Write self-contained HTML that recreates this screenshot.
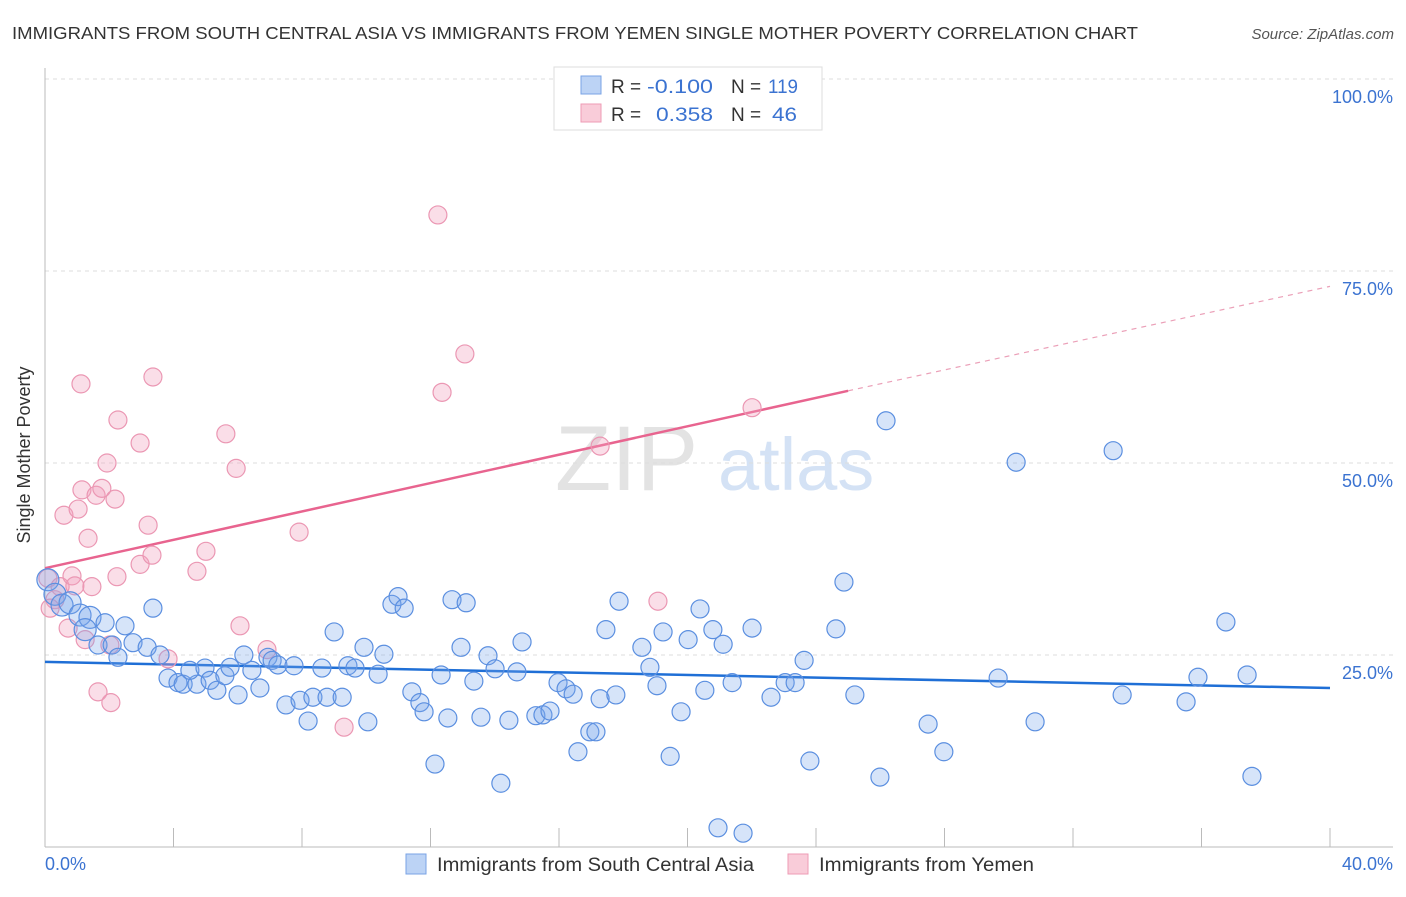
<!DOCTYPE html>
<html><head><meta charset="utf-8"><style>
body{margin:0;background:#fff;font-family:"Liberation Sans",sans-serif;}
svg text{font-family:"Liberation Sans",sans-serif;}
</style></head><body>
<svg id="chart" width="1406" height="892" viewBox="0 0 1406 892" xmlns="http://www.w3.org/2000/svg">
<text x="12" y="39" font-size="17.5" fill="#333" textLength="1126" lengthAdjust="spacingAndGlyphs">IMMIGRANTS FROM SOUTH CENTRAL ASIA VS IMMIGRANTS FROM YEMEN SINGLE MOTHER POVERTY CORRELATION CHART</text>
<text x="1394" y="39" font-size="15" fill="#555" font-style="italic" text-anchor="end">Source: ZipAtlas.com</text>
<g><text x="555" y="490" font-size="92" fill="#e3e3e3" font-family="Liberation Serif">ZIP</text><text x="718" y="490" font-size="74" fill="#d4e2f5">atlas</text></g>
<g id="grid"></g><g id="axes"></g><g id="trends"></g><g id="pts"></g>
<text x="30" y="455" font-size="18" fill="#333" text-anchor="middle" transform="rotate(-90 30 455)">Single Mother Poverty</text>
<text x="45" y="870" font-size="18" fill="#3b73d1">0.0%</text>
<text x="1393" y="870" font-size="18" fill="#3b73d1" text-anchor="end">40.0%</text>
<g>
<rect x="554" y="67" width="268" height="63" fill="#fff" stroke="#ddd"/>
<rect x="581" y="76" width="20" height="18" fill="#bcd3f5" stroke="#7aa3e5"/>
<rect x="581" y="104" width="20" height="18" fill="#f9ccd9" stroke="#ee9bb5"/>
<text x="611" y="93" font-size="19" fill="#333">R = <tspan x="647" fill="#3b73d1" textLength="66" lengthAdjust="spacingAndGlyphs">-0.100</tspan><tspan x="731">N = </tspan><tspan x="768" fill="#3b73d1" textLength="30" lengthAdjust="spacingAndGlyphs">119</tspan></text>
<text x="611" y="121" font-size="19" fill="#333">R = <tspan x="656" fill="#3b73d1" textLength="57" lengthAdjust="spacingAndGlyphs">0.358</tspan><tspan x="731">N = </tspan><tspan x="772" fill="#3b73d1" textLength="25" lengthAdjust="spacingAndGlyphs">46</tspan></text>
</g>
<g>
<g><rect x="406" y="854" width="20" height="20" fill="#bcd3f5" stroke="#7aa3e5"/><text x="437" y="871" font-size="19" fill="#333" textLength="317" lengthAdjust="spacingAndGlyphs">Immigrants from South Central Asia</text></g>
<g><rect x="788" y="854" width="20" height="20" fill="#f9ccd9" stroke="#ee9bb5"/><text x="819" y="871" font-size="19" fill="#333" textLength="215" lengthAdjust="spacingAndGlyphs">Immigrants from Yemen</text></g>
</g>
</svg>
<script>
const yTicks=[25,50,75,100];
const yTickLabels=["25.0%","50.0%","75.0%","100.0%"];
const xTicks=[0,4,8,12,16,20,24,28,32,36,40];
const blueX=[0.09,0.31,0.53,0.78,1.09,1.40,1.87,1.25,1.65,2.09,2.27,2.49,2.74,3.18,3.36,3.58,3.83,4.14,4.30,4.73,4.51,4.98,5.14,5.35,5.60,5.76,6.01,6.19,6.44,6.69,6.94,7.07,7.25,7.50,7.75,7.94,8.19,8.34,8.62,8.78,9.00,9.25,9.43,9.65,9.93,10.05,10.37,10.55,10.80,10.99,11.18,11.42,11.67,11.80,12.14,12.33,12.54,12.67,12.95,13.11,13.35,13.57,13.79,14.01,14.19,14.44,14.69,14.85,15.28,15.50,15.72,15.97,16.22,16.44,16.59,16.96,17.15,17.28,17.46,17.77,17.87,18.58,18.83,19.05,19.24,19.46,19.80,20.02,20.39,20.54,20.79,20.95,21.11,21.39,21.73,22.01,22.60,23.04,23.35,23.63,23.81,24.62,24.87,25.21,25.99,26.18,27.49,27.98,29.67,30.23,30.82,33.25,33.53,35.52,35.89,36.76,37.42,37.57];
const blueY=[34.8,32.9,31.5,31.8,30.2,29.9,29.2,28.3,26.3,26.3,24.7,28.8,26.6,26.0,31.1,25.0,22.0,21.4,21.2,21.2,23.0,23.3,21.7,20.4,22.3,23.4,19.8,25.0,23.0,20.7,24.7,24.3,23.7,18.5,23.6,19.1,16.4,19.5,23.3,19.5,28.0,19.5,23.6,23.3,26.0,16.3,22.5,25.1,31.6,32.6,31.1,20.2,18.8,17.6,10.8,22.4,16.8,32.2,26.0,31.8,21.6,16.9,24.9,23.2,8.3,16.5,22.8,26.7,17.1,17.2,17.7,21.4,20.6,19.9,12.4,15.0,15.0,19.3,28.3,19.8,32.0,26.0,23.4,21.0,28.0,11.8,17.6,27.0,31.0,20.4,28.3,2.5,26.4,21.4,1.8,28.5,19.5,21.4,21.4,24.3,11.2,28.4,34.5,19.8,9.1,55.5,16.0,12.4,22.0,50.1,16.3,51.6,19.8,18.9,22.1,29.3,22.4,9.2];
const pinkX=[0.09,0.31,0.47,0.72,0.84,0.93,0.59,1.03,1.15,1.34,1.59,1.77,1.93,2.18,2.27,1.12,1.46,2.24,2.96,2.96,3.21,3.33,3.36,3.83,4.73,5.01,5.63,5.95,6.07,6.91,7.91,9.31,12.23,12.36,13.07,17.28,19.08,22.01,1.65,2.05,1.25,0.16,2.02];
const pinkY=[35.0,32.2,33.9,28.5,35.3,34.0,43.2,44.0,46.5,40.2,45.8,46.7,50.0,45.3,55.6,60.3,33.9,35.2,52.6,36.8,41.9,38.0,61.2,24.5,35.9,38.5,53.8,49.3,28.8,25.7,41.0,15.6,82.3,59.2,64.2,52.2,32.0,57.2,20.2,18.8,27.0,31.1,26.3];
const blueTrend=[[0,24.1],[40,20.7]];
const pinkTrendSolid=[[0,36.3],[25,59.4]];
const pinkTrendDash=[[25,59.4],[40,73.0]];
const X0=45,X1=1330,Y0=847,Y1=79;
const sx=v=>X0+(v/40)*(X1-X0);
const sy=v=>Y0-(v/100)*(Y0-Y1);
const NS="http://www.w3.org/2000/svg";
function mk(tag,attrs,parent){const e=document.createElementNS(NS,tag);for(const k in attrs)e.setAttribute(k,attrs[k]);parent.appendChild(e);return e;}
const grid=document.getElementById('grid'),axes=document.getElementById('axes'),trends=document.getElementById('trends'),pts=document.getElementById('pts');
yTicks.forEach((t,i)=>{
 const l=mk('line',{x1:X0,x2:1393,y1:sy(t),y2:sy(t),stroke:'#ddd','stroke-dasharray':'4,4'},grid);
 
 
 const tx=mk('text',{x:1393,y:sy(t)+24,'font-size':18,fill:'#3b73d1','text-anchor':'end'},grid);
 tx.textContent=yTickLabels[i];
 
 
});
const xa=mk('line',{x1:X0,x2:1393,y1:Y0,y2:Y0,stroke:'#bbb'},axes);


const ya=mk('line',{x1:X0,x2:X0,y1:68,y2:Y0,stroke:'#bbb'},axes);


xTicks.forEach(t=>{
 const l=mk('line',{x1:sx(t),x2:sx(t),y1:828,y2:Y0,stroke:'#bbb'},axes);
 
 
});
function line(p,col,dash,name,w){
 const l=mk('line',{x1:sx(p[0][0]),y1:sy(p[0][1]),x2:sx(p[1][0]),y2:sy(p[1][1]),stroke:col,'stroke-width':w},trends);
 if(dash)l.setAttribute('stroke-dasharray',dash);
 
 
}
function dots(xs,ys,fill,stroke,name){
 xs.forEach((x,i)=>{
  const r=(x<1.5&&ys[i]>28&&ys[i]<36&&name==='blue-point')?11:9;
  const c=mk('circle',{cx:sx(x),cy:sy(ys[i]),r:r,fill:fill,stroke:stroke,'stroke-width':1.2},pts);
  
  
 });
}
dots(pinkX,pinkY,'rgba(242,160,188,0.35)','#eb97b3','pink-point');
dots(blueX,blueY,'rgba(120,165,235,0.3)','#5b8fe0','blue-point');
line(blueTrend,'#1f6fd6',null,'blue-trend-line',2.5);
line(pinkTrendSolid,'#e8648f',null,'pink-trend-line',2.5);
line(pinkTrendDash,'#eba0b8','5,5','pink-trend-extension',1.2);
</script>
</body></html>
